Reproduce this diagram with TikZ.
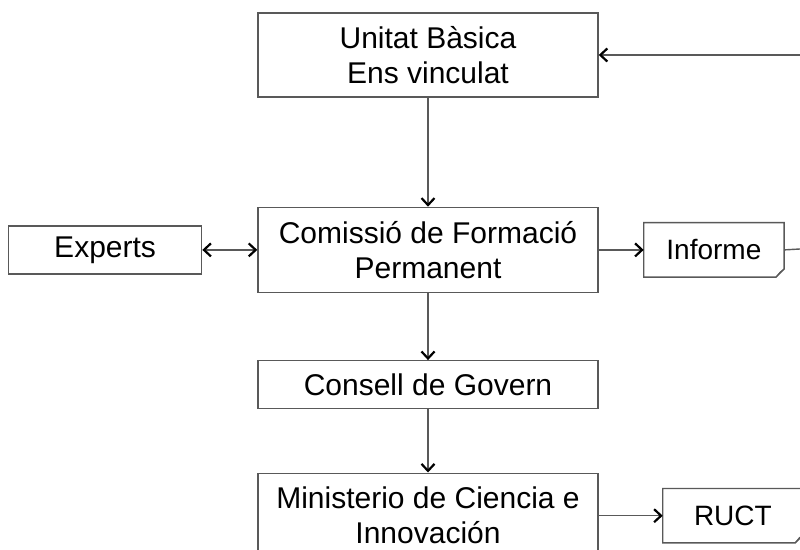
\documentclass[tikz,border=0pt]{standalone}
\usepackage{fontspec}
\setmainfont{Liberation Sans}
\usepackage{tikz}
\usetikzlibrary{positioning, arrows.meta}

\tikzset{
  box/.style={draw=black!65, line width=1.4pt, align=center, inner sep=0pt,
    minimum width=340pt, font=\fontsize{30}{35}\selectfont},
  docbox/.style={inner sep=0pt, minimum width=140pt, minimum height=54pt,
    font=\fontsize{28}{33}\selectfont},
  link/.style={draw=black!65, line width=1.4pt},
  arr/.style={link, ->, >={Straight Barb[length=7pt, width=13pt, line width=2.2pt, color=black]}}
}

\begin{document}
\begin{tikzpicture}[x=1pt, y=1pt]
    \useasboundingbox (0,0) rectangle (800,549);
    \clip (0,0) rectangle (800,549);

    % Main column
    \node[box, minimum height=84pt] (unitat) at (428,494) {Unitat Bàsica\\Ens vinculat};
    \node[box, minimum height=85pt, below=109pt of unitat] (comissio) {Comissió de Formació\\Permanent};
    \node[box, minimum height=48pt, below=67pt of comissio] (consell) {Consell de Govern};
    \node[box, minimum height=85pt, below=63pt of consell] (ministeri) {Ministerio de Ciencia e\\Innovación};

    % Side boxes
    \node[box, minimum width=193pt, minimum height=48pt, left=55pt of comissio] (experts) {Experts};
    \node[docbox, right=45pt of comissio] (informe) {Informe};
    \node[docbox, right=64pt of ministeri] (ruct) {RUCT};

    % Documents with folded corner
    \foreach \n in {informe, ruct} {
      \draw[link] (\n.north west) -- (\n.north east) -- ([yshift=8pt]\n.south east)
        -- ([xshift=-8pt]\n.south east) -- (\n.south west) -- cycle;
      \draw[link, line width=0.9pt] ([yshift=8pt]\n.south east) -- ([xshift=-4pt,yshift=5pt]\n.south east)
        -- ([xshift=-8pt]\n.south east);
    }

    % Connectors
    \coordinate (back) at (800,494);
    \coordinate (out) at (800,300);
    \draw[arr] (back) -- (unitat.east);
    \draw[arr] (unitat) -- (comissio);
    \draw[arr, <->] (experts) -- (comissio);
    \draw[arr] (comissio) -- (informe);
    \draw[link] (informe.east) -- (out);
    \draw[arr] (comissio) -- (consell);
    \draw[arr] (consell) -- (ministeri);
    \draw[arr] (ministeri.east |- ruct.west) -- (ruct.west);
  \end{tikzpicture}
\end{document}
